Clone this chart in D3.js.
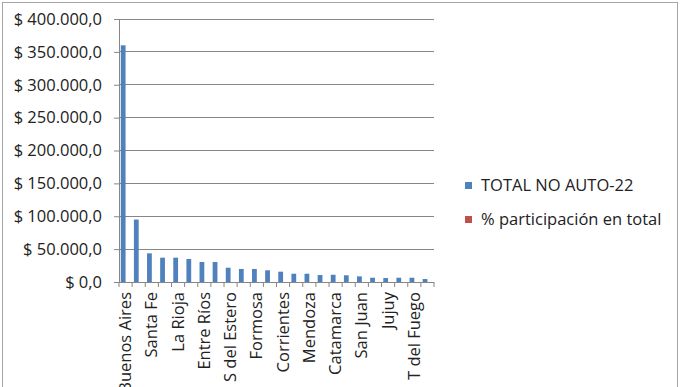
<!DOCTYPE html>
<html><head><meta charset="utf-8">
<script src="https://cdn.jsdelivr.net/npm/d3@7"></script>
<style>body{margin:0;background:#fff}svg{display:block;font-family:"Open Sans",sans-serif}</style>
</head><body>
<svg id="c" width="680" height="387"></svg>
<script>
const categories = ["Buenos Aires","Córdoba","Santa Fe","Chaco","La Rioja","Tucumán","Entre Ríos","Misiones","S del Estero","Salta","Formosa","Río Negro","Corrientes","Neuquén","Mendoza","Chubut","Catamarca","La Pampa","San Juan","Santa Cruz","Jujuy","San Luis","T del Fuego","CABA"];
const totalNoAuto22 = [360000,95000,43600,37000,37000,35000,30400,30400,21700,19800,19800,17800,15700,12600,12600,10600,11000,10200,8600,6500,6000,6500,6500,4500];
const participacion = [41.9,11.1,5.1,4.3,4.3,4.1,3.5,3.5,2.5,2.3,2.3,2.1,1.8,1.5,1.5,1.2,1.3,1.2,1.0,0.8,0.7,0.8,0.8,0.5];
const yTicks = [0,50000,100000,150000,200000,250000,300000,350000,400000];
const seriesNames = ["TOTAL NO AUTO-22","% participación en total"];
const colors = ["#4f81bd","#c0504d"];

const FS = 16.5;
const svg = d3.select("#c");
svg.append("rect").attr("x",2.5).attr("y",2.5).attr("width",675).attr("height",400)
  .attr("fill","none").attr("stroke","#a6a6a6");

const x0 = 119, x1 = 434, yTop = 19, yBot = 282;
const x = d3.scaleBand().domain(categories).range([x0,x1]).padding(0);
const inner = d3.scaleBand().domain([0,1]).range([0,x.bandwidth()]).paddingInner(0).paddingOuter(0.375);
const y = d3.scaleLinear().domain([0,400000]).range([yBot,yTop]);

svg.append("g").selectAll("line").data(yTicks.slice(1)).join("line")
  .attr("x1",x0).attr("x2",x1).attr("y1",d=>y(d)).attr("y2",d=>y(d))
  .attr("stroke","#868686").attr("stroke-width",1).attr("shape-rendering","crispEdges");

const fmt = v => "$ " + d3.format(",.1f")(v).replace(/,/g,"#").replace(".",",").replace(/#/g,".");
const ya = svg.append("g").attr("transform",`translate(${x0},0)`)
  .call(d3.axisLeft(y).tickValues(yTicks).tickSize(5).tickPadding(12).tickFormat(fmt));
ya.select(".domain").attr("stroke","#868686");
ya.selectAll(".tick line").attr("stroke","#868686");
ya.selectAll("text").attr("font-size",FS).attr("fill","#222").attr("font-family","Open Sans");

const series = [totalNoAuto22, participacion];
series.forEach((vals,si)=>{
  svg.append("g").selectAll("rect").data(categories).join("rect")
    .attr("x",(c)=>x(c)+inner(si))
    .attr("width",inner.bandwidth())
    .attr("y",(c,i)=>y(vals[i]))
    .attr("height",(c,i)=>yBot-y(vals[i]))
    .attr("fill",colors[si]);
});

const xa = svg.append("g").attr("transform",`translate(0,${yBot})`);
xa.append("line").attr("x1",x0).attr("x2",x1).attr("stroke","#868686").attr("shape-rendering","crispEdges");
const bounds = categories.map(c=>x(c)).concat([x1]);
xa.selectAll("line.t").data(bounds).join("line").attr("class","t")
  .attr("x1",d=>d).attr("x2",d=>d).attr("y1",0).attr("y2",5).attr("stroke","#868686");
xa.selectAll("text").data(categories.filter((c,i)=>i%2===0)).join("text")
  .attr("transform",c=>`translate(${x(c)+x.bandwidth()/2+5.5},10) rotate(-90)`)
  .attr("text-anchor","end").attr("font-size",FS).attr("fill","#222").text(c=>c);

const lg = svg.append("g").attr("transform","translate(465,182)");
seriesNames.forEach((n,i)=>{
  const g = lg.append("g").attr("transform",`translate(0,${i*34})`);
  g.append("rect").attr("width",7).attr("height",7).attr("y",0).attr("fill",colors[i]);
  g.append("text").attr("x",16).attr("y",9).attr("font-size",FS).attr("fill","#222").text(n);
});
</script>
</body></html>
